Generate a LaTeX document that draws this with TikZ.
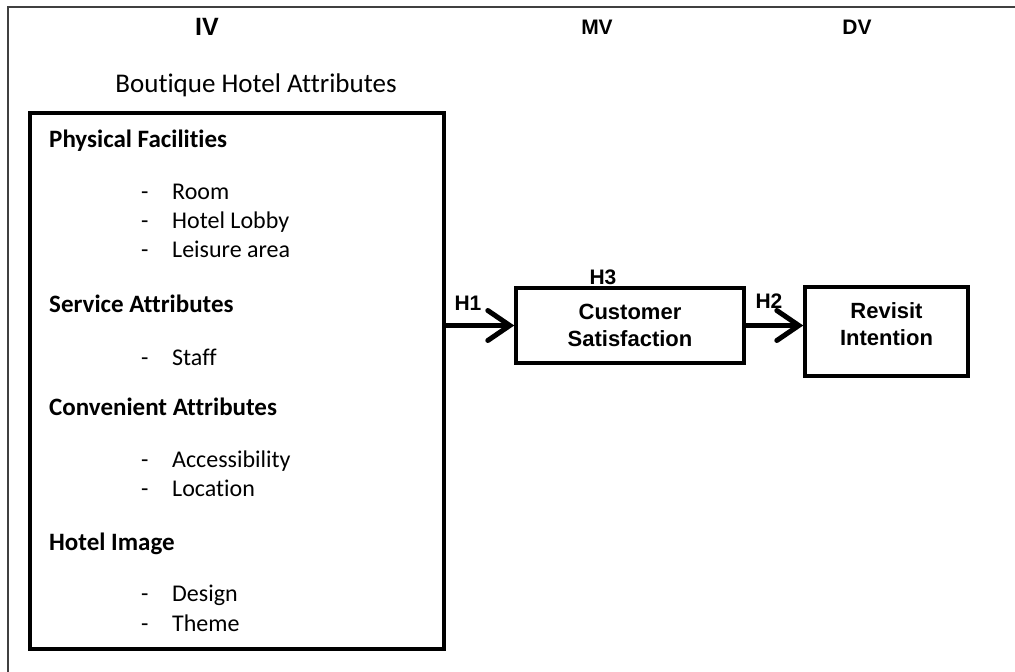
\documentclass[tikz,border=0pt]{standalone}
\usepackage{fontspec}
\setmainfont{Carlito}[Ligatures=NoCommon]
\newfontfamily\arialfont{Liberation Sans}
\usetikzlibrary{arrows.meta}
\begin{document}
\begin{tikzpicture}[x=1pt,y=-1pt,
  frame/.style={draw=black!75, line width=1.5pt},
  bigbox/.style={draw, line width=4pt, inner sep=0pt},
  varbox/.style={draw, line width=3.5pt, inner sep=0pt, align=center,
     font=\arialfont\bfseries\fontsize{22}{27}\selectfont},
  varlabel/.style={font=\arialfont\bfseries\fontsize{21}{24}\selectfont, inner sep=0pt},
  grouphead/.style={anchor=base west, inner sep=0pt, font=\bfseries\fontsize{25}{28}\selectfont},
  itemtext/.style={anchor=base west, inner sep=0pt, font=\fontsize{24}{28}\selectfont},
  dashmark/.style={anchor=base west, inner sep=0pt, font=\fontsize{24}{28}\selectfont},
  bigarrow/.style={line width=5pt, -{Straight Barb[length=22pt,width=30pt,line cap=round]}}
]
\useasboundingbox (0,0) rectangle (1015,672);
% outer frame
\coordinate (fbl) at (8,672);
\coordinate (ftl) at (8,7);
\coordinate (ftr) at (1015,7);
\draw[frame] (fbl) -- (ftl) -- (ftr);

% column headings
\node[varlabel, font=\arialfont\bfseries\fontsize{25}{25}\selectfont] (iv) at (207,27) {IV};
\node[varlabel] (mv) at (597,27) {MV};
\node[varlabel] (dv) at (857,27) {DV};

\node[inner sep=0pt, font=\fontsize{27}{30}\selectfont, anchor=base] (bha) at (256,92) {Boutique Hotel Attributes};

% attributes box
\node[bigbox, minimum width=414pt, minimum height=536pt] (attr) at (237,381) {};

\node[grouphead] (g1) at (49,147) {Physical Facilities};
\node[dashmark] (d1) at (141,199) {-};
\node[itemtext] (i1) at (172,199) {Room};
\node[dashmark] (d2) at (141,228) {-};
\node[itemtext] (i2) at (172,228) {Hotel Lobby};
\node[dashmark] (d3) at (141,257) {-};
\node[itemtext] (i3) at (172,257) {Leisure area};

\node[grouphead] (g2) at (49,312) {Service Attributes};
\node[dashmark] (d4) at (141,365) {-};
\node[itemtext] (i4) at (172,365) {Staff};

\node[grouphead] (g3) at (49,415) {Convenient Attributes};
\node[dashmark] (d5) at (141,467) {-};
\node[itemtext] (i5) at (172,467) {Accessibility};
\node[dashmark] (d6) at (141,496) {-};
\node[itemtext] (i6) at (172,496) {Location};

\node[grouphead] (g4) at (49,550) {Hotel Image};
\node[dashmark] (d7) at (141,601) {-};
\node[itemtext] (i7) at (172,601) {Design};
\node[dashmark] (d8) at (141,631) {-};
\node[itemtext] (i8) at (172,631) {Theme};

% mediator and outcome
\node[varbox, minimum width=228pt, minimum height=75pt] (cs) at (630,325.5) {Customer\\Satisfaction};
\node[varbox, minimum width=163pt, minimum height=89pt, text depth=15pt] (ri) at (886.5,331.5) {Revisit\\Intention};

% arrows
\draw[bigarrow] (attr.east |- cs.west) -- (cs.west);
\draw[bigarrow] (cs.east) -- (cs.east -| ri.west);

% hypothesis labels
\node[varlabel] (h1) at (468,303) {H1};
\node[varlabel] (h2) at (769,301) {H2};
\node[varlabel] (h3) at (603,277) {H3};
\end{tikzpicture}
\end{document}
